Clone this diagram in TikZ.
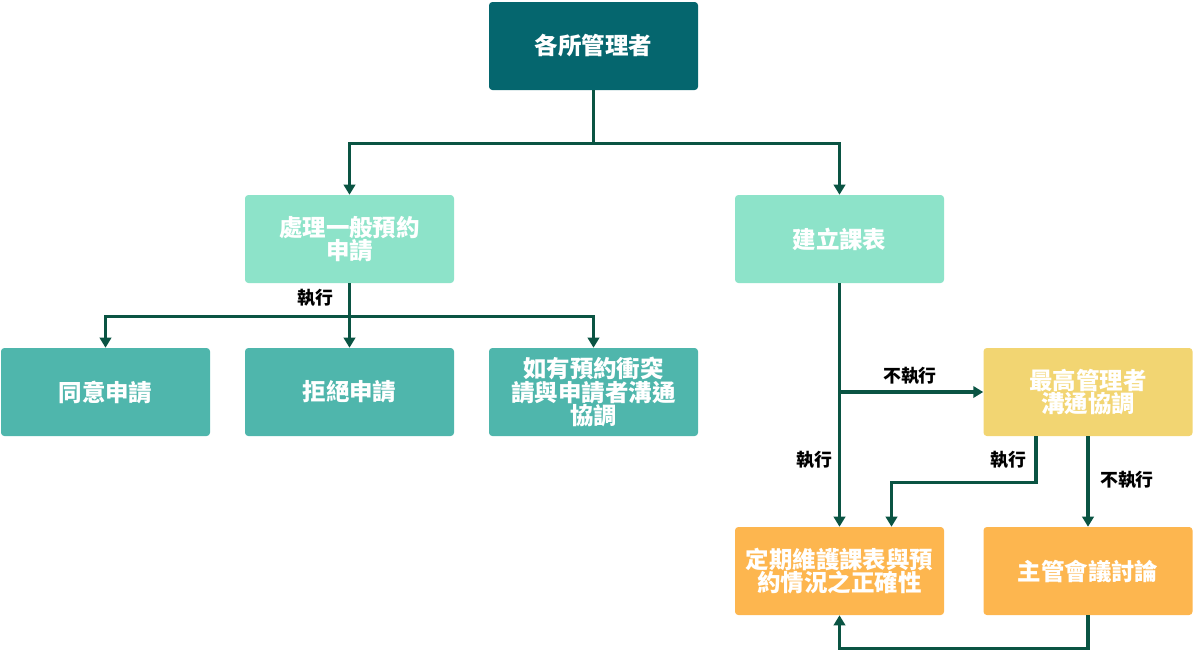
\documentclass[tikz,border=0pt]{standalone}
\usepackage{fontspec}
\setmainfont{Noto Sans CJK TC}
\usetikzlibrary{arrows.meta,calc}
\definecolor{topc}{HTML}{05666E}
\definecolor{mint}{HTML}{8DE3C9}
\definecolor{teal}{HTML}{4FB6AC}
\definecolor{yel}{HTML}{F2D572}
\definecolor{ora}{HTML}{FDB64F}
\definecolor{lnc}{HTML}{0A5443}
\begin{document}
\begin{tikzpicture}[x=0.75pt,y=-0.75pt,
  box/.style={rectangle,rounded corners=2.5pt,minimum width=156.75pt,minimum height=66pt,
    text=white,font=\fontsize{17.6}{17.4}\selectfont\bfseries,align=center,inner sep=2pt},
  conn/.style={draw=lnc,line width=2.3pt,-{Triangle[width=8.5pt,length=7.5pt]}},
  plain/.style={draw=lnc,line width=2.3pt},
  lab/.style={font=\fontsize{13.4}{13.4}\selectfont\bfseries,text=black,inner sep=1pt}]
\useasboundingbox (0,0) rectangle (1194,651);
\node[box,fill=topc] (top) at (593.5,46) {各所管理者};
\node[box,fill=mint] (gen) at (349.5,239) {處理一般預約\\申請};
\node[box,fill=mint] (sch) at (839.5,239) {建立課表};
\node[box,fill=teal] (agr) at (105.5,392) {同意申請};
\node[box,fill=teal] (rej) at (349.5,392) {拒絕申請};
\node[box,fill=teal] (con) at (593.5,392) {如有預約衝突\\請與申請者溝通\\協調};
\node[box,fill=yel] (high) at (1088,392) {最高管理者\\溝通協調};
\node[box,fill=ora] (main) at (839.5,571) {定期維護課表與預\\約情況之正確性};
\node[box,fill=ora] (meet) at (1088,571) {主管會議討論};
% top to level 2
\coordinate (t1) at ($(top.south)+(0,53)$);
\draw[plain] (top.south) -- (t1);
\draw[conn] (t1) -| (gen.north);
\draw[conn] (t1) -| (sch.north);
% general request branches
\coordinate (g1) at ($(gen.south)+(0,33)$);
\draw[conn] (gen.south) -- (rej.north);
\draw[conn] (g1) -| (agr.north);
\draw[conn] (g1) -| (con.north);
\node[lab] (l1) at (315,298) {執行};
% schedule
\draw[conn] (sch.south) -- (main.north);
\coordinate (s1) at (sch.south |- high.west);
\draw[conn] (s1) -- (high.west);
\node[lab] (l2) at (910,376) {不執行};
\node[lab] (l3) at (814,460) {執行};
% high
\coordinate (h1) at ($(high.south)+(-52,0)$);
\coordinate (m1) at ($(main.north)+(52,0)$);
\draw[conn] (h1) -- ++(0,46) -| (m1);
\node[lab] (l4) at (1008,460) {執行};
\draw[conn] (high.south) -- (meet.north);
\node[lab] (l5) at (1127,480) {不執行};
% loop back
\draw[conn] (meet.south) -- ++(0,33) -| (main.south);
\end{tikzpicture}
\end{document}
